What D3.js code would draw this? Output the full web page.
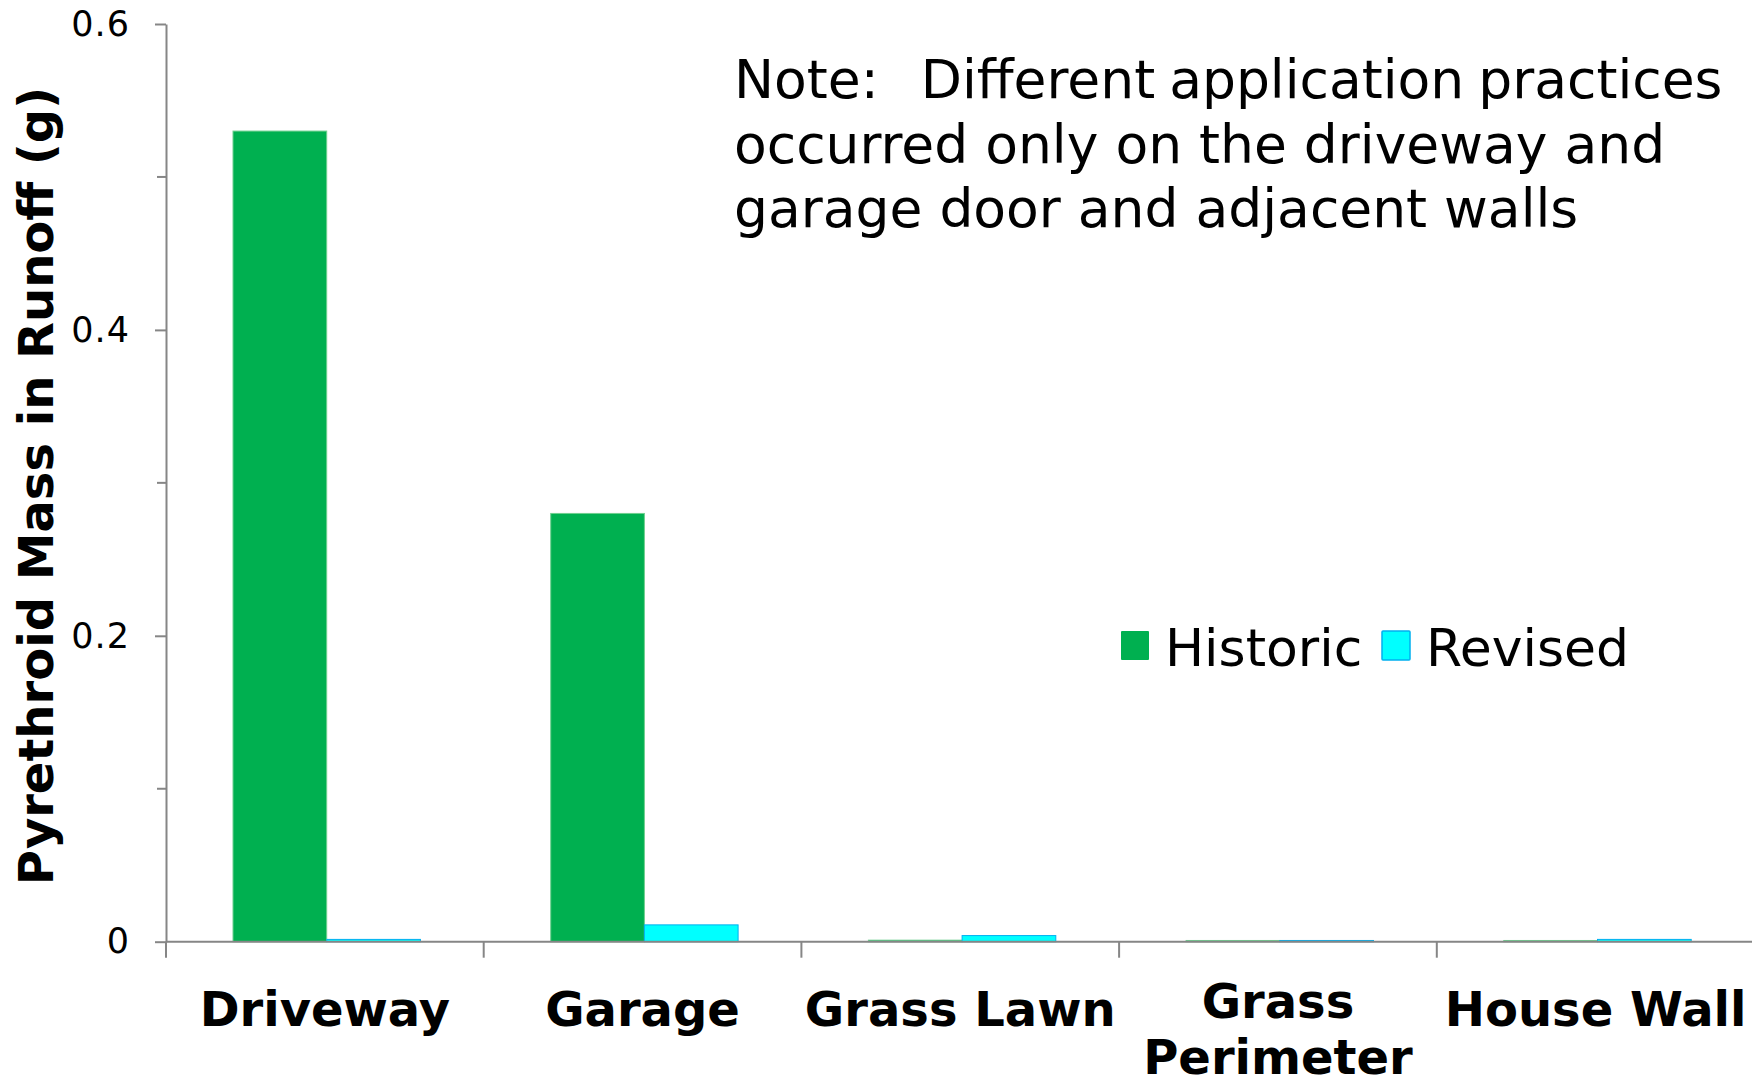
<!DOCTYPE html>
<html>
<head>
<meta charset="utf-8">
<script src="https://cdn.jsdelivr.net/npm/d3@7"></script>
<style>
  body { margin: 0; background: #fff; }
  svg { display: block; }
</style>
</head>
<body>
<svg id="main"></svg>
<script>
// data
const categories = [['Driveway'], ['Garage'], ['Grass Lawn'], ['Grass', 'Perimeter'], ['House Wall']];
const series = ['Historic', 'Revised'];
const historic = [0.53, 0.28, 0.001, 0.0008, 0.0008];
const revised = [0.0015, 0.011, 0.004, 0.0008, 0.0015];
const yTicks = [0, 0.2, 0.4, 0.6];
const yMinorTicks = [0.1, 0.3, 0.5];
const noteLines = [
  'Note:   Different application practices',
  'occurred only on the driveway and',
  'garage door and adjacent walls'
];

const width = 1752, height = 1085;
const colors = { Historic: '#00b050', Revised: '#00ffff' };
const strokes = { Historic: '#6fd08f', Revised: '#00b0f0' };
const axisColor = '#868686';
const font = 'DejaVu Sans, Verdana, sans-serif';

const svg = d3.select('#main')
  .attr('width', width)
  .attr('height', height);

const catKeys = categories.map(d => d.join(' '));

const x = d3.scaleBand()
  .domain(catKeys)
  .range([166, 166 + 5 * 317.7]);

const xInner = d3.scaleBand()
  .domain(series)
  .range([67, 67 + 187.4]);

const y = d3.scaleLinear()
  .domain([0, 0.6])
  .range([941.7, 24]);

// bars
const rows = catKeys.map((k, i) => ({ key: k, Historic: historic[i], Revised: revised[i] }));

const groups = svg.selectAll('.group')
  .data(rows)
  .enter()
  .append('g')
  .attr('class', 'group')
  .attr('transform', d => `translate(${x(d.key)},0)`);

groups.selectAll('rect')
  .data(d => series.map(s => ({ s: s, v: d[s] })))
  .enter()
  .append('rect')
  .attr('x', d => xInner(d.s))
  .attr('y', d => y(d.v))
  .attr('width', xInner.bandwidth())
  .attr('height', d => y(0) - y(d.v))
  .attr('fill', d => colors[d.s])
  .attr('stroke', d => strokes[d.s])
  .attr('stroke-width', 1);

// y axis
const yAxis = svg.append('g')
  .attr('transform', 'translate(166,0)')
  .call(d3.axisLeft(y)
    .tickValues(yTicks)
    .tickFormat(d => d === 0 ? '0' : d3.format('.1f')(d))
    .tickSize(11)
    .tickSizeOuter(0)
    .tickPadding(25));

yAxis.select('.domain').attr('stroke', axisColor).attr('stroke-width', 2);
yAxis.selectAll('.tick line').attr('stroke', axisColor).attr('stroke-width', 2);
yAxis.selectAll('.tick text')
  .attr('font-family', font)
  .attr('font-size', '35px')
  .attr('letter-spacing', '1px')
  .attr('fill', '#000');

svg.append('g')
  .selectAll('line')
  .data(yMinorTicks)
  .enter()
  .append('line')
  .attr('x1', 157)
  .attr('x2', 166)
  .attr('y1', d => y(d))
  .attr('y2', d => y(d))
  .attr('stroke', axisColor)
  .attr('stroke-width', 2);

// x axis
svg.append('line')
  .attr('x1', 166)
  .attr('x2', width)
  .attr('y1', y(0))
  .attr('y2', y(0))
  .attr('stroke', axisColor)
  .attr('stroke-width', 2);

svg.selectAll('.xtick')
  .data(catKeys)
  .enter()
  .append('line')
  .attr('class', 'xtick')
  .attr('x1', d => x(d))
  .attr('x2', d => x(d))
  .attr('y1', y(0))
  .attr('y2', y(0) + 16)
  .attr('stroke', axisColor)
  .attr('stroke-width', 2);

svg.selectAll('.xlabel')
  .data(categories)
  .enter()
  .append('text')
  .attr('class', 'xlabel')
  .attr('text-anchor', 'middle')
  .attr('font-family', font)
  .attr('font-weight', 'bold')
  .attr('font-size', '48px')
  .attr('fill', '#000')
  .each(function (d, i) {
    const cx = x(catKeys[i]) + x.bandwidth() / 2;
    // two-line label sits a bit higher so its second line stays on the page
    const top = d.length > 1 ? 1018 : 1026;
    d3.select(this).selectAll('tspan')
      .data(d)
      .enter()
      .append('tspan')
      .attr('x', cx)
      .attr('y', (t, j) => top + j * 55.5)
      .text(t => t);
  });

// y title
svg.append('text')
  .text('Pyrethroid Mass in Runoff (g)')
  .attr('transform', 'translate(53,486) rotate(-90)')
  .attr('text-anchor', 'middle')
  .attr('font-family', font)
  .attr('font-weight', 'bold')
  .attr('font-size', '48px')
  .attr('fill', '#000');

// note
svg.append('text')
  .attr('font-family', font)
  .attr('font-size', '53.5px')
  .attr('fill', '#000')
  .selectAll('tspan')
  .data(noteLines)
  .enter()
  .append('tspan')
  .attr('x', 734)
  .attr('y', (d, i) => 98 + i * 64.5)
  .attr('word-spacing', (d, i) => i === 0 ? '-3px' : null)
  .style('white-space', 'pre')
  .text(d => d);

// legend
const legendPos = { Historic: 1121, Revised: 1382 };
series.forEach(s => {
  svg.append('rect')
    .attr('x', legendPos[s])
    .attr('y', 631)
    .attr('width', 28)
    .attr('height', 29)
    .attr('rx', 1)
    .attr('fill', colors[s])
    .attr('stroke', s === 'Revised' ? strokes[s] : 'none')
    .attr('stroke-width', 1.5);
  svg.append('text')
    .text(s)
    .attr('x', legendPos[s] + 44)
    .attr('y', 666)
    .attr('font-family', font)
    .attr('font-size', '52px')
    .attr('fill', '#000');
});
</script>
</body>
</html>
